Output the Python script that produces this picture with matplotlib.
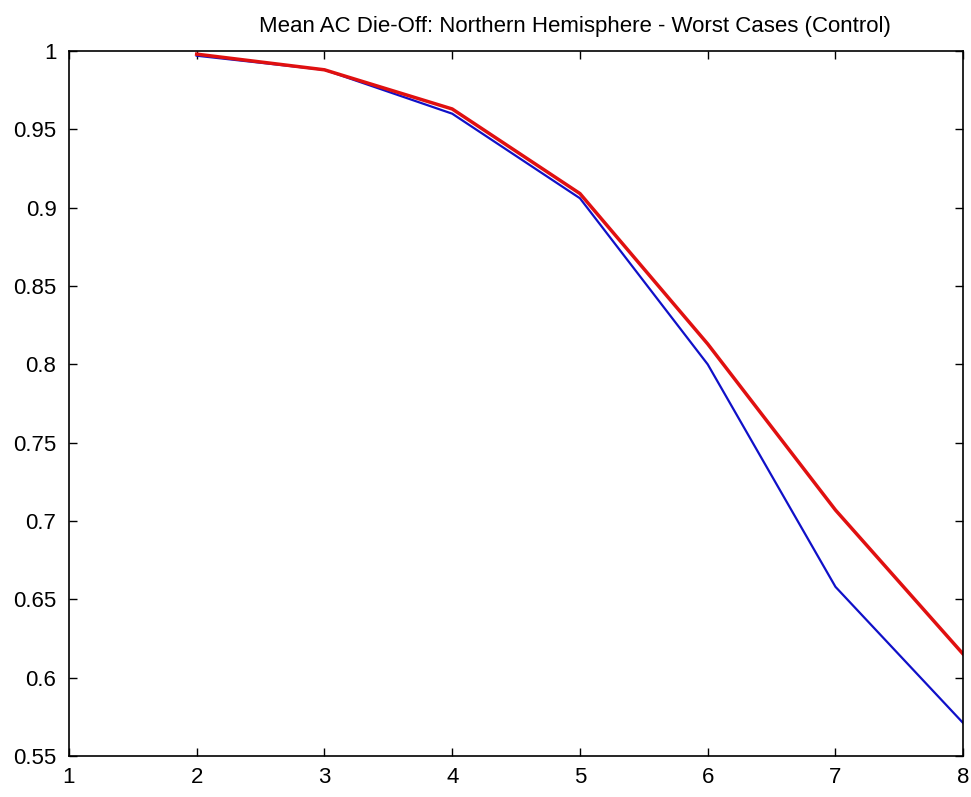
import matplotlib
matplotlib.use("Agg")
import matplotlib.pyplot as plt

x = [2, 3, 4, 5, 6, 7, 8]
blue_vals = [0.997, 0.988, 0.960, 0.906, 0.800, 0.658, 0.571]
red_vals = [0.998, 0.988, 0.963, 0.909, 0.813, 0.707, 0.615]

xticks = [1, 2, 3, 4, 5, 6, 7, 8]
yticks = [0.55, 0.6, 0.65, 0.7, 0.75, 0.8, 0.85, 0.9, 0.95, 1.0]
ytick_labels = ["0.55", "0.6", "0.65", "0.7", "0.75", "0.8", "0.85", "0.9", "0.95", "1"]

plt.rcParams['font.family'] = ['Liberation Sans Narrow', 'Liberation Sans', 'DejaVu Sans']
fig = plt.figure(figsize=(9.71, 7.97), dpi=100)
ax = fig.add_axes([0.071, 0.0514, 0.921, 0.8846])

ax.plot(x, blue_vals, color='#1010c8', lw=1.6)
ax.plot(x, red_vals, color='#e01010', lw=2.5)

ax.set_xlim(1, 8)
ax.set_ylim(0.55, 1.0)
ax.set_xticks(xticks)
ax.set_xticklabels([str(v) for v in xticks])
ax.set_yticks(yticks)
ax.set_yticklabels(ytick_labels)
ax.tick_params(direction='in', top=True, right=True, length=6, width=1, labelsize=16)
ax.tick_params(axis='x', pad=8)
ax.tick_params(axis='y', pad=9)
for s in ax.spines.values():
    s.set_linewidth(1.2)
ax.set_title("Mean AC Die-Off: Northern Hemisphere - Worst Cases (Control)", fontsize=16, pad=14, x=0.566)

fig.savefig("out.png", dpi=100)
